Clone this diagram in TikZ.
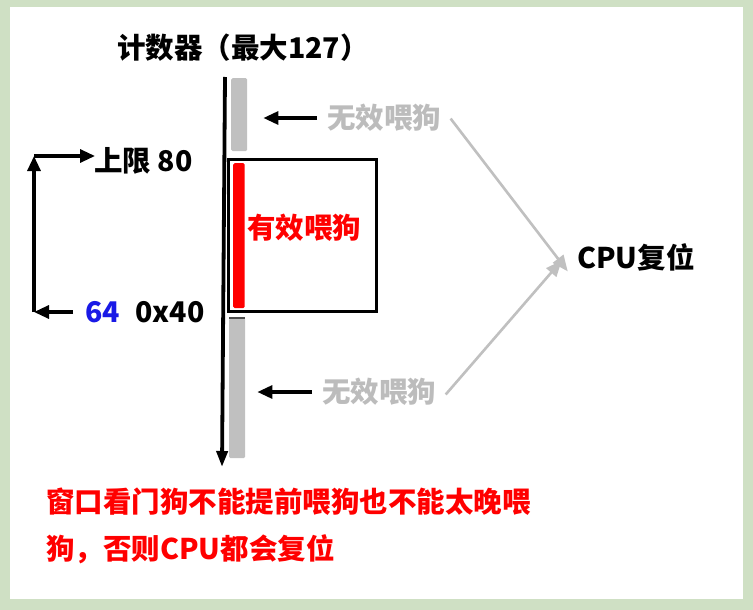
\documentclass[tikz,border=0pt]{standalone}
\usepackage{fontspec}
\setmainfont{Noto Sans CJK SC}
\usepackage{xcolor}
\usetikzlibrary{arrows.meta,positioning}
\definecolor{frameGreen}{RGB}{207,224,196}
\definecolor{barGray}{RGB}{192,192,192}
\definecolor{txtGray}{RGB}{188,188,188}
\definecolor{wdRed}{RGB}{255,0,0}
\definecolor{wdBlue}{RGB}{25,25,230}

\begin{document}
\begin{tikzpicture}[
  x=1pt,y=-1pt,
  every node/.style={font=\bfseries\fontsize{28.5}{32}\selectfont,inner sep=0pt},
  blkarrow/.style={line width=3.2pt,-{Triangle[length=15pt,width=13pt]}},
  grayarrow/.style={draw=barGray,line width=2.6pt,
                    -{Triangle[length=16pt,width=13pt]},shorten >=2pt,shorten <=2pt},
  bar/.style={fill=barGray,rounded corners=1.5pt,anchor=north west,minimum width=16pt},
  invtxt/.style={anchor=west,text=txtGray}
]

% ---- frame ----
\fill[frameGreen] (0,0) rectangle (753,610);
\fill[white] (10,7) rectangle (743,599);

% ---- counter axis ----
\node[anchor=west] (title) at (117,48) {计数器（最大127）};
\coordinate (axtop) at (225,77);
\coordinate (axbot) at (222,467);
\draw[line width=3.8pt,-{Triangle[length=16pt,width=11pt]}] (axtop) -- (axbot);

% ---- window ----
\node[bar,minimum height=73pt] (upbar) at (231,78) {};
\node[draw,line width=3pt,anchor=north west,
      minimum width=148pt,minimum height=152pt] (win) at (227,158) {};
\node[fill=wdRed,rounded corners=1.5pt,anchor=north west,
      minimum width=11.5pt,minimum height=145pt] (redbar) at (233,163) {};
\node[anchor=west,text=wdRed] (valid) at (247,228) {有效喂狗};
\node[bar,minimum height=140pt] (lowbar) at (229,318) {};
\draw[line width=1.5pt,black!70] (lowbar.north west) -- (lowbar.north east);

% ---- invalid feeds ----
\node[invtxt] (invup) at (327,118) {无效喂狗};
\node[invtxt] (invlow) at (322,392) {无效喂狗};
\draw[blkarrow,shorten <=10pt,shorten >=16pt] (invup.west) -- (upbar.east |- invup.west);
\draw[blkarrow,shorten <=10pt,shorten >=12pt] (invlow.west) -- (lowbar.east |- invlow.west);

% ---- reset ----
\node[anchor=west] (cpu) at (577,257) {CPU复位};
\draw[grayarrow] (invup.east) ++(8,-1) -- ([xshift=-8pt,yshift=-16pt]cpu.west);
\draw[grayarrow] (invlow.east) ++(8,4) -- ([xshift=-14pt,yshift=-2pt]cpu.west);

% ---- limits ----
\node[anchor=west] (upper) at (94,161) {上限 80};
\node[anchor=west,text=wdBlue] (low) at (85,312) {64};
\node[anchor=west,right=15pt of low] (lowhex) {0x40};
\coordinate (lcorner) at (34,312);
\coordinate (ucorner) at (34,156);
\draw[blkarrow,shorten <=12pt] (low.west) -- (lcorner);
\draw[blkarrow] (lcorner) -- (ucorner);
\draw[blkarrow,shorten >=-1pt] (ucorner) -- (upper.west |- ucorner);

% ---- note ----
\node[anchor=north west,align=left,text=wdRed,
      font=\bfseries\fontsize{28.5}{47}\selectfont] (note) at (46,488)
  {窗口看门狗不能提前喂狗也不能太晚喂\\狗，否则CPU都会复位};

\end{tikzpicture}
\end{document}
